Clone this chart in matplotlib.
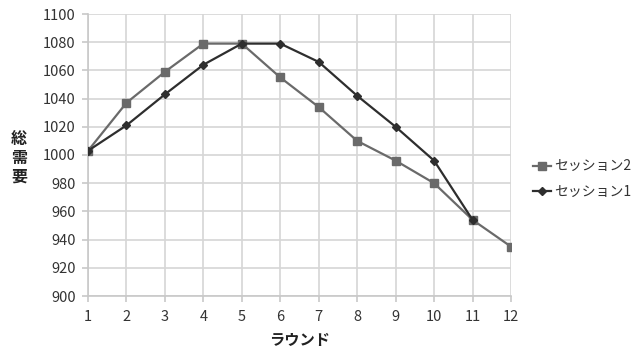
import matplotlib
matplotlib.use("Agg")
import matplotlib.pyplot as plt

plt.rcParams['font.family'] = ['Noto Sans CJK JP', 'DejaVu Sans']

rounds_s2 = [1, 2, 3, 4, 5, 6, 7, 8, 9, 10, 11, 12]
demand_s2 = [1003, 1037, 1059, 1079, 1079, 1055, 1034, 1010, 996, 980, 954, 935]
rounds_s1 = [1, 2, 3, 4, 5, 6, 7, 8, 9, 10, 11]
demand_s1 = [1003, 1021, 1043, 1064, 1079, 1079, 1066, 1042, 1020, 996, 954]
x_ticks = list(range(1, 13))
y_ticks = list(range(900, 1101, 20))

fig = plt.figure(figsize=(6.39, 3.54), dpi=100)
ax = fig.add_axes([88 / 639, 1 - 296 / 354, (511 - 88) / 639, (296 - 14) / 354])

ax.plot(rounds_s2, demand_s2, color='#6a6a6a', lw=1.6, marker='s', ms=6,
        mfc='#6a6a6a', mec='#6a6a6a', label='セッション2', zorder=3)
ax.plot(rounds_s1, demand_s1, color='#2e2e2e', lw=1.6, marker='D', ms=4,
        mfc='#2e2e2e', mec='#2e2e2e', label='セッション1', zorder=4)

ax.set_xlim(1, 12)
ax.set_ylim(900, 1100)
ax.set_xticks(x_ticks)
ax.set_yticks(y_ticks)
ax.grid(True, color='#d6d6d6', lw=1.2)
ax.set_axisbelow(True)
for side in ['top', 'right']:
    ax.spines[side].set_visible(False)
for side in ['left', 'bottom']:
    ax.spines[side].set_color('#c8c8c8')
    ax.spines[side].set_linewidth(1.2)
ax.tick_params(axis='both', colors='#c8c8c8', labelcolor='#333333',
               labelsize=10.5, length=4, width=1.2)
ax.tick_params(axis='x', pad=6)
ax.tick_params(axis='y', pad=5)

fig.text(300 / 639, 1 - 340 / 354, 'ラウンド', ha='center', va='center',
         fontsize=11, fontweight='bold', color='#222222')
fig.text(19 / 639, 1 - 158 / 354, '総\n需\n要', ha='center', va='center',
         fontsize=11.5, fontweight='bold', color='#222222', linespacing=1.2)

ax.legend(loc='center left', bbox_to_anchor=(533 / 639, 1 - 179 / 354),
          bbox_transform=fig.transFigure, frameon=False, fontsize=10,
          handlelength=1.3, handletextpad=0.25, labelspacing=0.8,
          borderaxespad=0, borderpad=0, labelcolor='#333333')

fig.savefig('out.png', dpi=100)
